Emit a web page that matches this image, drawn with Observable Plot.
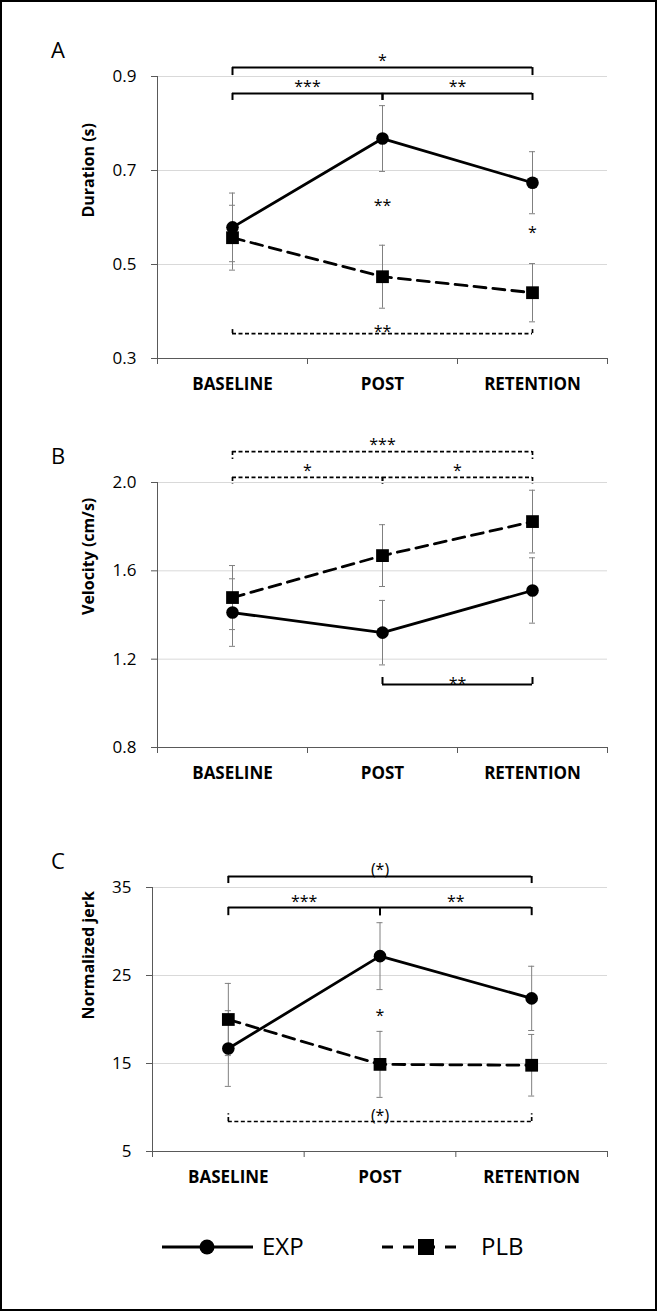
<!DOCTYPE html>
<html>
<head>
<meta charset="utf-8">
<script src="https://cdn.jsdelivr.net/npm/d3@7"></script>
<script src="https://cdn.jsdelivr.net/npm/@observablehq/plot@0.6"></script>
<style>
  body { margin: 0; background: #fff; }
  #frame { position: relative; width: 657px; height: 1311px; background: #fff; overflow: hidden; font-family: "Open Sans", sans-serif; }
  .panel { position: absolute; left: 0; }
  .plabel { position: absolute; left: 51px; font-size: 22px; line-height: 1; color: #000; font-family: "Open Sans", sans-serif; }
  #border { position: absolute; left: 0; top: 0; width: 657px; height: 1311px; box-sizing: border-box; border: 2px solid #000; pointer-events: none; }
  #legend { position: absolute; left: 0; top: 1220px; }
</style>
</head>
<body>
<div id="frame"></div>
<script>
// ---------- data ----------
const phases = ["BASELINE", "POST", "RETENTION"];
const groups = ["EXP", "PLB"];

// Panel A: Duration (s)
const durExp = [0.579, 0.768, 0.674];
const durExpErr = [0.073, 0.070, 0.066];
const durPlb = [0.557, 0.474, 0.440];
const durPlbErr = [0.069, 0.067, 0.062];
const durTicks = [0.3, 0.5, 0.7, 0.9];

// Panel B: Velocity (cm/s)
const velExp = [1.411, 1.320, 1.511];
const velExpErr = [0.153, 0.146, 0.148];
const velPlb = [1.479, 1.669, 1.823];
const velPlbErr = [0.145, 0.140, 0.142];
const velTicks = [0.8, 1.2, 1.6, 2.0];

// Panel C: Normalized jerk
const jerkExp = [16.7, 27.2, 22.4];
const jerkExpErr = [4.3, 3.8, 3.65];
const jerkPlb = [20.0, 14.9, 14.8];
const jerkPlbErr = [4.1, 3.75, 3.5];
const jerkTicks = [5, 15, 25, 35];

// significance brackets: from/to = phase index, y = bar level, leg = end of legs (data units)
const durBrackets = [
  {from: 0, to: 2, y: 0.919, leg: 0.902, label: "*", ly: 0.940, dashed: false},
  {from: 0, to: 1, y: 0.864, leg: 0.849, label: "***", ly: 0.885, dashed: false},
  {from: 1, to: 2, y: 0.864, leg: 0.849, label: "**", ly: 0.885, dashed: false},
  {from: 0, to: 2, y: 0.353, leg: 0.366, label: "**", ly: 0.362, dashed: true}
];
const durNotes = [{i: 1, y: 0.632, label: "**"}, {i: 2, y: 0.574, label: "*"}];

const velBrackets = [
  {from: 0, to: 2, y: 2.140, leg: 2.104, label: "***", ly: 2.186, dashed: true},
  {from: 0, to: 1, y: 2.023, leg: 1.991, label: "*", ly: 2.068, dashed: true},
  {from: 1, to: 2, y: 2.023, leg: 1.991, label: "*", ly: 2.068, dashed: true},
  {from: 1, to: 2, y: 1.085, leg: 1.117, label: "**", ly: 1.103, dashed: false}
];
const velNotes = [];

const jerkBrackets = [
  {from: 0, to: 2, y: 36.25, leg: 35.45, label: "(*)", ly: 37.4, dashed: false},
  {from: 0, to: 1, y: 32.73, leg: 31.8, label: "***", ly: 33.75, dashed: false},
  {from: 1, to: 2, y: 32.73, leg: 31.8, label: "**", ly: 33.75, dashed: false},
  {from: 0, to: 2, y: 8.41, leg: 9.3, label: "(*)", ly: 9.43, dashed: true}
];
const jerkNotes = [{i: 1, y: 20.8, label: "*"}];

// ---------- drawing ----------
const FONT = "Open Sans, sans-serif";
const CAP = 0.02; // error-bar cap half width in category units

function rows(vals, errs) {
  return vals.map((v, i) => ({i, v, lo: v - errs[i], hi: v + errs[i]}));
}

function panel(o) {
  const idx = phases.map((_, i) => i);
  const bounds = [-0.5, ...idx.map(i => i + 0.5)];
  const ymin = o.ticks[0], ymax = o.ticks[o.ticks.length - 1];
  const e = rows(o.exp, o.expErr), p = rows(o.plb, o.plbErr);
  const legs = o.brackets.flatMap(b => [
    {x: b.from, y1: b.y, y2: b.leg, dashed: b.dashed},
    {x: b.to, y1: b.y, y2: b.leg, dashed: b.dashed}
  ]);
  const solidB = o.brackets.filter(b => !b.dashed), dashB = o.brackets.filter(b => b.dashed);
  const solidL = legs.filter(l => !l.dashed), dashL = legs.filter(l => l.dashed);
  const errorBars = (data) => [
    Plot.ruleX(data, {x: "i", y1: "lo", y2: "hi", stroke: "#808080", strokeWidth: 1}),
    Plot.ruleY(data, {x1: d => d.i - CAP, x2: d => d.i + CAP, y: "lo", stroke: "#808080", strokeWidth: 1}),
    Plot.ruleY(data, {x1: d => d.i - CAP, x2: d => d.i + CAP, y: "hi", stroke: "#808080", strokeWidth: 1})
  ];
  return Plot.plot({
    width: 657,
    height: o.height,
    marginLeft: o.marginLeft,
    marginRight: 50,
    marginTop: o.marginTop,
    marginBottom: o.marginBottom,
    style: {fontFamily: FONT, background: "transparent", overflow: "visible"},
    x: {type: "linear", domain: [-0.5, phases.length - 0.5]},
    y: {type: "linear", domain: [ymin, ymax]},
    marks: [
      Plot.ruleY(o.ticks.slice(1), {stroke: "#d9d9d9", strokeWidth: 1}),
      Plot.ruleX([-0.5], {stroke: "#595959", strokeWidth: 1}),
      Plot.ruleY([ymin], {stroke: "#595959", strokeWidth: 1}),
      Plot.axisY(o.ticks, {tickSize: 6, tickPadding: 15, tickFormat: o.fmt, fontSize: 17, stroke: "#595959", fill: "#000", label: null}),
      Plot.axisX(bounds, {tickSize: 6, tickFormat: () => "", stroke: "#595959", label: null}),
      Plot.axisX(idx, {tickSize: 0, tickPadding: 19, tickFormat: i => phases[i], fontSize: 17, fontWeight: "bold", fill: "#000", label: null}),
      Plot.text([o.label], {frameAnchor: "left", rotate: -90, dx: 88.5 - o.marginLeft, fontSize: 16, fontWeight: "bold", fill: "#000"}),
      ...errorBars(e),
      ...errorBars(p),
      Plot.line(p, {x: "i", y: "v", stroke: "#000", strokeWidth: 2.8, strokeDasharray: "12,7"}),
      Plot.line(e, {x: "i", y: "v", stroke: "#000", strokeWidth: 2.8}),
      Plot.dot(p, {x: "i", y: "v", symbol: "square", r: 7.2, fill: "#000", stroke: "none"}),
      Plot.dot(e, {x: "i", y: "v", symbol: "circle", r: 6.3, fill: "#000", stroke: "none"}),
      // brackets
      Plot.ruleY(solidB, {x1: "from", x2: "to", y: "y", stroke: "#000", strokeWidth: 2}),
      Plot.ruleX(solidL, {x: "x", y1: "y1", y2: "y2", stroke: "#000", strokeWidth: 2}),
      Plot.ruleY(dashB, {x1: "from", x2: "to", y: "y", stroke: "#000", strokeWidth: 1.7, strokeDasharray: "4,2.5"}),
      Plot.ruleX(dashL, {x: "x", y1: "y1", y2: "y2", stroke: "#000", strokeWidth: 1.7, strokeDasharray: "4,2.5"}),
      Plot.text(o.brackets, {x: b => (b.from + b.to) / 2, y: "ly", text: "label", fontSize: 16, fill: "#000", dy: 3}),
      Plot.text(o.notes, {x: "i", y: "y", text: "label", fontSize: 16, fill: "#000", dy: 3})
    ]
  });
}

const frame = document.getElementById("frame");
const specs = [
  {letter: "A", top: 0, height: 400, marginTop: 76, marginBottom: 42, marginLeft: 157, label: "Duration (s)",
   exp: durExp, expErr: durExpErr, plb: durPlb, plbErr: durPlbErr, ticks: durTicks, fmt: d3.format(".1f"),
   brackets: durBrackets, notes: durNotes},
  {letter: "B", top: 400, height: 400, marginTop: 82, marginBottom: 53, marginLeft: 157, label: "Velocity (cm/s)",
   exp: velExp, expErr: velExpErr, plb: velPlb, plbErr: velPlbErr, ticks: velTicks, fmt: d3.format(".1f"),
   brackets: velBrackets, notes: velNotes},
  {letter: "C", top: 800, height: 400, marginTop: 87, marginBottom: 49, marginLeft: 152, label: "Normalized jerk",
   exp: jerkExp, expErr: jerkExpErr, plb: jerkPlb, plbErr: jerkPlbErr, ticks: jerkTicks, fmt: d3.format("d"),
   brackets: jerkBrackets, notes: jerkNotes}
];
for (const s of specs) {
  const svg = panel(s);
  svg.classList.add("panel");
  svg.style.top = s.top + "px";
  frame.appendChild(svg);
  const lab = document.createElement("div");
  lab.className = "plabel";
  lab.textContent = s.letter;
  lab.style.top = (s.top + s.marginTop - 38) + "px";
  frame.appendChild(lab);
}

// legend
const ns = "http://www.w3.org/2000/svg";
const leg = document.createElementNS(ns, "svg");
leg.setAttribute("id", "legend");
leg.setAttribute("width", 657);
leg.setAttribute("height", 60);
leg.innerHTML = `
  <line x1="162" x2="253" y1="27" y2="27" stroke="#000" stroke-width="3"/>
  <circle cx="207" cy="27" r="7.5" fill="#000"/>
  <text x="262" y="27" dy="0.35em" font-family="Open Sans, sans-serif" font-size="24" fill="#000">${groups[0]}</text>
  <line x1="382" x2="465" y1="27" y2="27" stroke="#000" stroke-width="3" stroke-dasharray="11,10"/>
  <rect x="418" y="19" width="16" height="16" fill="#000"/>
  <text x="481" y="27" dy="0.35em" font-family="Open Sans, sans-serif" font-size="24" fill="#000">${groups[1]}</text>`;
frame.appendChild(leg);

const border = document.createElement("div");
border.id = "border";
frame.appendChild(border);
</script>
</body>
</html>
